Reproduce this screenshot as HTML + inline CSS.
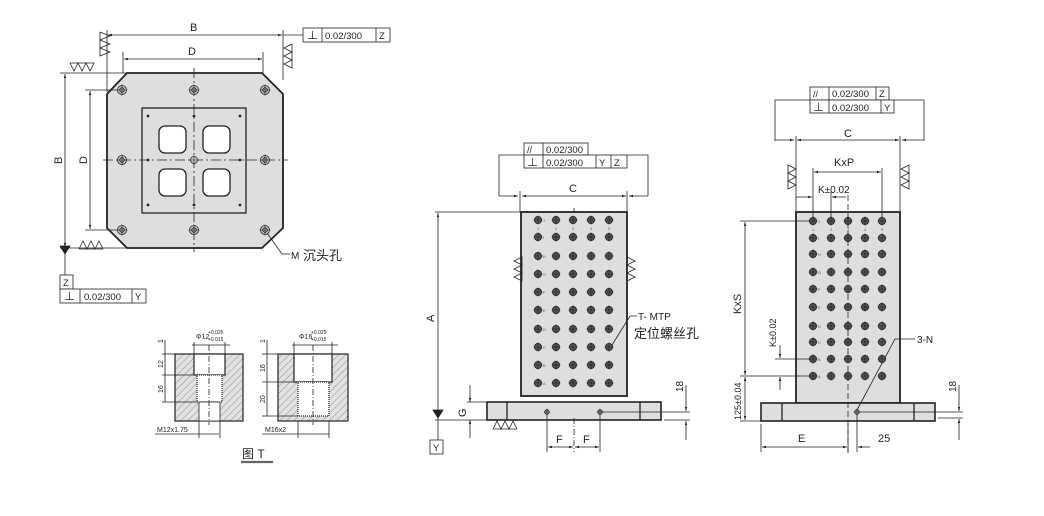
<!DOCTYPE html>
<html><head><meta charset="utf-8"><style>
html,body{margin:0;padding:0;background:#fff;}
svg{display:block;font-family:"Liberation Sans","Noto Sans CJK SC",sans-serif;}
</style></head><body>
<svg id="s" width="1044" height="516" viewBox="0 0 1044 516" xmlns="http://www.w3.org/2000/svg">
<defs>
<marker id="a" viewBox="0 0 10 10" refX="10" refY="5" markerWidth="7" markerHeight="5" orient="auto-start-reverse"><path d="M0,2 L10,5 L0,8z" fill="#222"/></marker>
<pattern id="h" width="5" height="5" patternUnits="userSpaceOnUse" patternTransform="rotate(45)"><rect width="5" height="5" fill="#e2e2e2"/><line x1="0" y1="0" x2="0" y2="5" stroke="#666" stroke-width="0.7"/></pattern>
</defs>
<g stroke="#222" stroke-width="0.8" fill="none">
<!-- LEFT PLATE -->
<polygon points="127,73 262,73 283,94 283,228 262,248 127,248 107,228 107,94" fill="#dedede" stroke-width="1.8"/>
<rect x="142" y="108" width="104" height="105" fill="#dedede" stroke-width="1.3"/>
<rect x="159" y="126" width="27" height="27" rx="6" fill="#fff" stroke-width="1.3"/>
<rect x="203" y="126" width="27" height="27" rx="6" fill="#fff" stroke-width="1.3"/>
<rect x="159" y="169" width="27" height="27" rx="6" fill="#fff" stroke-width="1.3"/>
<rect x="203" y="169" width="27" height="27" rx="6" fill="#fff" stroke-width="1.3"/>
<line x1="194" y1="68" x2="194" y2="252" stroke-dasharray="10,3,2,3"/>
<line x1="103" y1="160" x2="288" y2="160" stroke-dasharray="10,3,2,3"/>
<line x1="107" y1="30" x2="107" y2="92"/><line x1="283" y1="30" x2="283" y2="80"/>
<line x1="108" y1="35" x2="282" y2="35" marker-start="url(#a)" marker-end="url(#a)"/>
<line x1="123" y1="52" x2="123" y2="73"/><line x1="263" y1="52" x2="263" y2="73"/>
<line x1="124" y1="59" x2="262" y2="59" marker-start="url(#a)" marker-end="url(#a)"/>
<line x1="60" y1="73" x2="127" y2="73"/><line x1="60" y1="248" x2="127" y2="248"/>
<line x1="65" y1="74" x2="65" y2="247" marker-start="url(#a)" marker-end="url(#a)"/>
<line x1="85" y1="90" x2="120" y2="90"/><line x1="85" y1="230" x2="120" y2="230"/>
<line x1="90" y1="91" x2="90" y2="229" marker-start="url(#a)" marker-end="url(#a)"/>
<line x1="65" y1="248" x2="65" y2="275"/>
<path d="M60,246 L70,246 L65,254z" fill="#222"/>
<line x1="283" y1="35" x2="303" y2="35"/>
<polyline points="267,233 282,254 290,254"/>
<path d="M100,32 L110,36 L100,40 M100,40 L110,44 L100,48 M100,48 L110,52 L100,56 L100,32"/>
<path d="M292,44 L284,48 L292,52 M292,52 L284,56 L292,60 M292,60 L284,64 L292,68 L292,44"/>
<path d="M70,63 L74,71 L78,63 L82,71 L86,63 L90,71 L94,63 L70,63"/>
<path d="M79,249 L83,241 L87,249 L91,241 L95,249 L99,241 L103,249 M79,249 L103,249"/>
<rect x="303" y="28" width="87" height="14" fill="#fff"/><line x1="322" y1="28" x2="322" y2="42"/><line x1="376" y1="28" x2="376" y2="42"/>
<rect x="60" y="275" width="13" height="14" fill="#fff"/>
<rect x="60" y="289" width="86" height="14" fill="#fff"/><line x1="80" y1="289" x2="80" y2="303"/><line x1="132" y1="289" x2="132" y2="303"/>

<!-- MIDDLE BLOCK -->
<rect x="521" y="212" width="106" height="184" fill="#dedede" stroke-width="1.8"/>
<rect x="487" y="402" width="174" height="18" fill="#dedede" stroke-width="1.6"/>
<line x1="507" y1="402" x2="507" y2="420" stroke-width="1.3"/><line x1="640" y1="402" x2="640" y2="420" stroke-width="1.3"/>
<line x1="574" y1="208" x2="574" y2="213"/>
<line x1="574" y1="418" x2="574" y2="452" stroke-dasharray="6,2,1,2"/>
<rect x="524" y="143" width="64" height="12" fill="#fff"/><line x1="543" y1="143" x2="543" y2="155"/>
<rect x="524" y="155" width="103" height="13" fill="#fff"/><line x1="543" y1="155" x2="543" y2="168"/><line x1="596" y1="155" x2="596" y2="168"/><line x1="611" y1="155" x2="611" y2="168"/>
<polyline points="499,196 499,155 524,155"/><polyline points="627,155 648,155 648,196"/>
<line x1="499" y1="196" x2="518" y2="196" marker-end="url(#a)"/><line x1="648" y1="196" x2="629" y2="196" marker-end="url(#a)"/>
<line x1="522" y1="196" x2="626" y2="196" marker-start="url(#a)" marker-end="url(#a)"/>
<line x1="520" y1="191" x2="520" y2="212"/><line x1="627" y1="191" x2="627" y2="212"/>
<line x1="435" y1="212" x2="520" y2="212"/>
<line x1="438" y1="213" x2="438" y2="412" marker-start="url(#a)"/>
<path d="M433,410 L443,410 L438,418z" fill="#222"/>
<line x1="438" y1="418" x2="438" y2="440"/>
<rect x="430" y="440" width="13" height="14" fill="#fff"/>
<line x1="435" y1="420" x2="487" y2="420"/>
<line x1="467" y1="402" x2="487" y2="402"/>
<line x1="470" y1="385" x2="470" y2="402" marker-end="url(#a)"/><line x1="470" y1="438" x2="470" y2="420" marker-end="url(#a)"/>
<path d="M493,429 L497,421 L501,429 L505,421 L509,429 L513,421 L517,429 M493,429 L517,429"/>
<path d="M522,257 L514,261 L522,265 L514,269 L522,273 L514,277 L522,281z"/>
<path d="M627,257 L635,261 L627,265 L635,269 L627,273 L635,277 L627,281"/>
<line x1="547" y1="415" x2="547" y2="452"/><line x1="600" y1="415" x2="600" y2="452"/>
<line x1="548" y1="447" x2="573" y2="447" marker-start="url(#a)" marker-end="url(#a)"/>
<line x1="575" y1="447" x2="599" y2="447" marker-start="url(#a)" marker-end="url(#a)"/>
<line x1="600" y1="412" x2="690" y2="412"/><line x1="664" y1="420" x2="690" y2="420"/>
<line x1="686" y1="385" x2="686" y2="411" marker-end="url(#a)"/><line x1="686" y1="440" x2="686" y2="421" marker-end="url(#a)"/>
<polyline points="612,345 630,316 637,316"/>

<!-- RIGHT BLOCK -->
<rect x="796" y="212" width="104" height="191" fill="#dedede" stroke-width="1.8"/>
<rect x="761" y="403" width="174" height="18" fill="#dedede" stroke-width="1.6"/>
<line x1="782" y1="403" x2="782" y2="421" stroke-width="1.3"/><line x1="914" y1="403" x2="914" y2="421" stroke-width="1.3"/>
<line x1="848" y1="195" x2="848" y2="455" stroke-dasharray="6,3"/>
<rect x="810" y="87" width="79" height="13" fill="#fff"/><line x1="829" y1="87" x2="829" y2="100"/><line x1="876" y1="87" x2="876" y2="100"/>
<rect x="810" y="100" width="84" height="13" fill="#fff"/><line x1="829" y1="100" x2="829" y2="113"/><line x1="881" y1="100" x2="881" y2="113"/>
<polyline points="775,141 775,100 810,100"/><polyline points="894,100 924,100 924,141"/>
<line x1="775" y1="140" x2="794" y2="140" marker-end="url(#a)"/><line x1="924" y1="140" x2="902" y2="140" marker-end="url(#a)"/>
<line x1="797" y1="140" x2="899" y2="140" marker-start="url(#a)" marker-end="url(#a)"/>
<line x1="796" y1="136" x2="796" y2="212"/><line x1="900" y1="136" x2="900" y2="212"/>
<path d="M788,165 L796,169 L788,173 L796,177 L788,181 L796,185 L788,189z"/>
<path d="M909,165 L901,169 L909,173 L901,177 L909,181 L901,185 L909,189z"/>
<line x1="813" y1="168" x2="813" y2="218"/><line x1="882" y1="168" x2="882" y2="218"/><line x1="831" y1="192" x2="831" y2="218"/>
<line x1="814" y1="172" x2="881" y2="172" marker-start="url(#a)" marker-end="url(#a)"/>
<line x1="796" y1="197" x2="812" y2="197" marker-end="url(#a)"/><line x1="846" y1="197" x2="832" y2="197" marker-end="url(#a)"/>
<line x1="740" y1="221" x2="810" y2="221"/><line x1="740" y1="376" x2="810" y2="376"/><line x1="775" y1="359" x2="810" y2="359"/>
<line x1="745" y1="222" x2="745" y2="375" marker-start="url(#a)" marker-end="url(#a)"/>
<line x1="745" y1="377" x2="745" y2="420" marker-start="url(#a)" marker-end="url(#a)"/>
<line x1="740" y1="421" x2="761" y2="421"/>
<line x1="780" y1="345" x2="780" y2="358" marker-end="url(#a)"/><line x1="780" y1="390" x2="780" y2="377" marker-end="url(#a)"/>
<line x1="761" y1="424" x2="761" y2="452"/><line x1="848" y1="424" x2="848" y2="452"/><line x1="857" y1="415" x2="857" y2="452"/>
<line x1="762" y1="447" x2="847" y2="447" marker-start="url(#a)" marker-end="url(#a)"/>
<line x1="870" y1="447" x2="858" y2="447" marker-end="url(#a)"/>
<line x1="858" y1="412" x2="963" y2="412"/><line x1="938" y1="418" x2="963" y2="418"/>
<line x1="959" y1="385" x2="959" y2="411" marker-end="url(#a)"/><line x1="959" y1="440" x2="959" y2="419" marker-end="url(#a)"/>
<polyline points="857,410 895,339 915,339"/>

<!-- DETAIL T -->
<rect x="175" y="354" width="68" height="67" fill="url(#h)" stroke-width="1.2"/>
<rect x="194" y="354" width="31" height="21" fill="#fff" stroke-width="1.2"/>
<rect x="197" y="375" width="25" height="27" fill="#fff" stroke-width="1.2" stroke-dasharray="1,1"/>
<rect x="199" y="402" width="21" height="19" fill="#fff"/>
<line x1="209" y1="345" x2="209" y2="425" stroke-dasharray="6,2,1,2"/>
<line x1="162" y1="354" x2="175" y2="354"/><line x1="162" y1="375" x2="194" y2="375"/><line x1="162" y1="402" x2="197" y2="402"/>
<line x1="165" y1="340" x2="165" y2="402"/>
<line x1="194" y1="342" x2="194" y2="354"/><line x1="225" y1="342" x2="225" y2="354"/>
<line x1="192" y1="345" x2="230" y2="345"/>
<line x1="199" y1="421" x2="199" y2="438"/><line x1="220" y1="421" x2="220" y2="438"/>
<line x1="155" y1="434" x2="219" y2="434"/>
<rect x="278" y="354" width="70" height="67" fill="url(#h)" stroke-width="1.2"/>
<rect x="294" y="354" width="38" height="28" fill="#fff" stroke-width="1.2"/>
<rect x="298" y="382" width="31" height="34" fill="#fff" stroke-width="1.2" stroke-dasharray="1,1"/>
<line x1="313" y1="345" x2="313" y2="425" stroke-dasharray="6,2,1,2"/>
<line x1="262" y1="354" x2="278" y2="354"/><line x1="262" y1="382" x2="294" y2="382"/><line x1="262" y1="416" x2="298" y2="416"/>
<line x1="267" y1="340" x2="267" y2="416"/>
<line x1="294" y1="342" x2="294" y2="354"/><line x1="332" y1="342" x2="332" y2="354"/>
<line x1="292" y1="345" x2="338" y2="345"/>
<line x1="298" y1="421" x2="298" y2="438"/><line x1="329" y1="421" x2="329" y2="438"/>
<line x1="262" y1="434" x2="329" y2="434"/>
<line x1="241" y1="462" x2="273" y2="462" stroke="#666" stroke-width="2.2"/>
</g>
<g id="holes"></g>
<g font-size="11" fill="#222">
<text x="190" y="31">B</text><text x="188" y="55">D</text>
<text x="62" y="164" transform="rotate(-90 62 164)">B</text>
<text x="87" y="164" transform="rotate(-90 87 164)">D</text>
<text x="307" y="39">⊥</text><text x="325" y="39" font-size="9.5">0.02/300</text><text x="379" y="39" font-size="9.5">Z</text>
<text x="63" y="286" font-size="9.5">Z</text>
<text x="64" y="300">⊥</text><text x="84" y="300" font-size="9.5">0.02/300</text><text x="135" y="300" font-size="9.5">Y</text>
<text x="291" y="259" font-size="10">M</text><text x="303" y="260" font-size="13">沉头孔</text>
<text x="527" y="153" font-size="9">//</text><text x="546" y="153" font-size="9.5">0.02/300</text>
<text x="527" y="166">⊥</text><text x="546" y="166" font-size="9.5">0.02/300</text><text x="599" y="166" font-size="9.5">Y</text><text x="614" y="166" font-size="9.5">Z</text>
<text x="569" y="192">C</text>
<text x="434" y="322" transform="rotate(-90 434 322)">A</text>
<text x="433" y="451" font-size="9.5">Y</text>
<text x="466" y="417" transform="rotate(-90 466 417)">G</text>
<text x="556" y="443">F</text><text x="583" y="443">F</text>
<text x="683" y="392" font-size="10" transform="rotate(-90 683 392)">18</text>
<text x="638" y="320" font-size="10">T- MTP</text>
<text x="634" y="338" font-size="13">定位螺丝孔</text>
<text x="813" y="97" font-size="9">//</text><text x="832" y="97" font-size="9.5">0.02/300</text><text x="879" y="97" font-size="9.5">Z</text>
<text x="813" y="111">⊥</text><text x="832" y="111" font-size="9.5">0.02/300</text><text x="884" y="111" font-size="9.5">Y</text>
<text x="844" y="137">C</text>
<text x="834" y="166" font-size="11">KxP</text>
<text x="818" y="193" font-size="10">K±0.02</text>
<text x="741" y="314" font-size="11" transform="rotate(-90 741 314)">KxS</text>
<text x="776" y="347" font-size="9" transform="rotate(-90 776 347)">K±0.02</text>
<text x="741" y="420" font-size="9" transform="rotate(-90 741 420)">125±0.04</text>
<text x="798" y="442">E</text><text x="878" y="442">25</text>
<text x="956" y="392" font-size="10" transform="rotate(-90 956 392)">18</text>
<text x="917" y="343" font-size="10">3-N</text>
<g font-size="7"><text x="196" y="339">Φ12</text><text x="208" y="334" font-size="5">+0.025</text><text x="208" y="341" font-size="5">+0.015</text>
<text x="299" y="339">Φ16</text><text x="311" y="334" font-size="5">+0.025</text><text x="311" y="341" font-size="5">+0.015</text>
<text x="157" y="432">M12x1.75</text><text x="265" y="432">M16x2</text>
<text x="163" y="343" transform="rotate(-90 163 343)">1</text>
<text x="163" y="368" transform="rotate(-90 163 368)">12</text>
<text x="163" y="393" transform="rotate(-90 163 393)">16</text>
<text x="265" y="343" transform="rotate(-90 265 343)">1</text>
<text x="265" y="372" transform="rotate(-90 265 372)">16</text>
<text x="265" y="403" transform="rotate(-90 265 403)">20</text></g>
<text x="242" y="458" font-size="12">图 T</text>
<g font-size="4" fill="#555">
<text x="543" y="222">J</text><text x="543" y="239">I</text><text x="543" y="258">H</text><text x="543" y="276">G</text><text x="543" y="294">F</text><text x="543" y="312">E</text><text x="543" y="331">D</text><text x="543" y="349">C</text><text x="543" y="367">B</text><text x="543" y="385">A</text>
<text x="537" y="230">1</text><text x="555" y="230">2</text><text x="572" y="230">3</text><text x="590" y="230">4</text><text x="608" y="230">5</text>
<text x="818" y="223">J</text><text x="818" y="240">I</text><text x="818" y="256">H</text><text x="818" y="274">G</text><text x="818" y="291">F</text><text x="818" y="309">E</text><text x="818" y="328">D</text><text x="818" y="344">C</text><text x="818" y="361">B</text><text x="818" y="378">A</text>
<text x="812" y="231">1</text><text x="830" y="231">2</text><text x="847" y="231">3</text><text x="864" y="231">4</text><text x="881" y="231">5</text>
</g>
</g>
<script>
var g=document.getElementById('holes'),ns='http://www.w3.org/2000/svg';
function hole(x,y,r,fill){var c=document.createElementNS(ns,'circle');c.setAttribute('cx',x);c.setAttribute('cy',y);c.setAttribute('r',r);c.setAttribute('fill',fill);c.setAttribute('stroke','#222');c.setAttribute('stroke-width','0.8');g.appendChild(c);
var l=document.createElementNS(ns,'path');l.setAttribute('d','M'+(x-r-1)+','+y+'h'+(2*r+2)+'M'+x+','+(y-r-1)+'v'+(2*r+2));l.setAttribute('stroke','#222');l.setAttribute('stroke-width','0.6');g.appendChild(l);}
[[122,90],[194,90],[265,90],[122,160],[265,160],[122,230],[194,230],[265,230]].forEach(function(p){hole(p[0],p[1],4.5,'#ccc');hole(p[0],p[1],2.3,'#aaa');});
hole(194,160,3.5,'#ccc');
[[148,116],[194,116],[240,116],[148,160],[240,160],[148,205],[194,205],[240,205]].forEach(function(p){var c=document.createElementNS(ns,'circle');c.setAttribute('cx',p[0]);c.setAttribute('cy',p[1]);c.setAttribute('r',1.4);c.setAttribute('fill','#222');g.appendChild(c);});
[538,556,573,591,609].forEach(function(x){[220,237,256,274,292,310,329,347,365,383].forEach(function(y){hole(x,y,3.6,'#555');});});
[813,831,848,865,882].forEach(function(x){[221,238,254,272,289,307,326,342,359,376].forEach(function(y){hole(x,y,3.6,'#555');});});
hole(547,412,2.3,'#999');hole(600,412,2.3,'#999');hole(857,412,2.3,'#999');
</script>
</svg>
</body></html>
